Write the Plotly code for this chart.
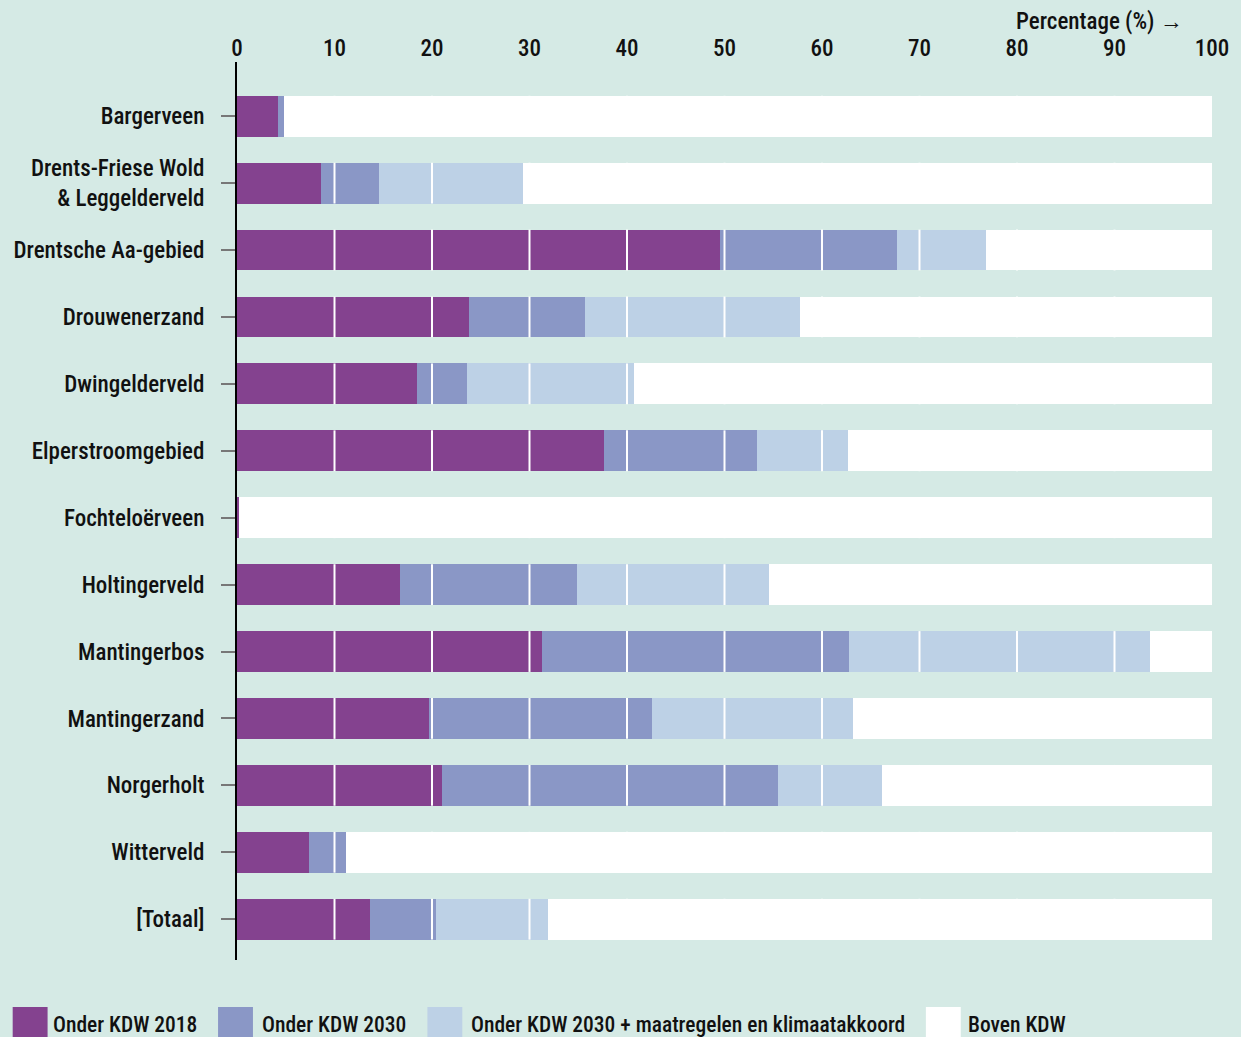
import plotly.graph_objects as go

categories = ["Bargerveen", "Drents-Friese Wold<br>& Leggelderveld", "Drentsche Aa-gebied",
              "Drouwenerzand", "Dwingelderveld", "Elperstroomgebied", "Fochteloërveen",
              "Holtingerveld", "Mantingerbos", "Mantingerzand", "Norgerholt", "Witterveld", "[Totaal]"]
onder_2018 = [4.2, 8.6, 49.5, 23.8, 18.5, 37.6, 0.2, 16.7, 31.3, 19.7, 21.0, 7.4, 13.6]
onder_2030 = [0.6, 6.0, 18.2, 11.9, 5.1, 15.7, 0.0, 18.2, 31.5, 22.9, 34.5, 3.8, 6.8]
onder_2030_maatr = [0.0, 14.7, 9.1, 22.0, 17.1, 9.4, 0.0, 19.7, 30.8, 20.6, 10.7, 0.0, 11.5]
boven = [round(100 - a - b - c, 1) for a, b, c in zip(onder_2018, onder_2030, onder_2030_maatr)]

series_names = ["Onder KDW 2018", "Onder KDW 2030", "Onder KDW 2030 + maatregelen en klimaatakkoord", "Boven KDW"]
series_values = [onder_2018, onder_2030, onder_2030_maatr, boven]
colors = ["#84428f", "#8a97c6", "#bdd1e6", "#ffffff"]
x_ticks = list(range(0, 101, 10))

BG = "#d5eae5"
FONT = "Liberation Sans Narrow, Roboto Condensed, Arial Narrow, sans-serif"
W, H = 1241, 1037
ML, MR, MT, MB = 237, 26, 62, 77

fig = go.Figure()
ypos = list(range(len(categories)))
for name, vals, col in zip(series_names, series_values, colors):
    fig.add_trace(go.Bar(y=ypos, x=vals, name=name, orientation="h",
                         marker=dict(color=col, line=dict(width=0)), width=0.61,
                         showlegend=False))

# white gridlines only inside the bars
shapes = []
for i in ypos:
    for t in x_ticks[1:-1]:
        shapes.append(dict(type="line", xref="x", yref="y", x0=t, x1=t, y0=i - 0.305, y1=i + 0.305,
                           line=dict(color="white", width=2), layer="above"))

# custom legend
def px_x(p):
    return (p - ML) / (W - ML - MR)

def px_y(p):
    return 1 - (p - MT) / (H - MT - MB)

legend_pos = [(12, 50), (218, 260), (428, 470), (928, 968)]
annotations = []
for (sx, tx), name, col in zip(legend_pos, series_names, colors):
    shapes.append(dict(type="rect", xref="paper", yref="paper", x0=px_x(sx), x1=px_x(sx + 35),
                       y0=px_y(1037), y1=px_y(1007), fillcolor=col, line=dict(width=0), layer="above"))
    annotations.append(dict(xref="paper", yref="paper", x=px_x(tx), y=px_y(1024), text=name,
                            showarrow=False, xanchor="left", yanchor="middle",
                            font=dict(size=21.5, color="#111111", family=FONT, weight=500)))

annotations.append(dict(xref="paper", yref="paper", x=px_x(1188), y=px_y(22), text="Percentage (%) →",
                        showarrow=False, xanchor="right", yanchor="middle",
                        font=dict(size=23, color="#111111", family=FONT, weight=500)))

fig.update_layout(
    width=W, height=H, barmode="stack",
    margin=dict(l=ML, r=MR, t=MT, b=MB, pad=0),
    paper_bgcolor=BG, plot_bgcolor=BG,
    font=dict(family=FONT, color="#111111"),
    shapes=shapes, annotations=annotations,
    xaxis=dict(side="top", range=[0, 100], tickvals=x_ticks, ticktext=[str(t) for t in x_ticks],
               showgrid=False, zeroline=False, showline=False, ticks="",
               tickfont=dict(size=23, color="#111111", family=FONT, weight=500), fixedrange=True),
    yaxis=dict(range=[12.61, -0.81], tickvals=ypos, ticktext=categories,
               showgrid=False, zeroline=False, showline=True, linecolor="#000000", linewidth=2,
               ticks="outside", ticklen=14, tickcolor="#777777", tickwidth=2,
               ticklabelstandoff=12,
               tickfont=dict(size=23, color="#111111", family=FONT, weight=500)),
)

fig.write_html("out.html", config={"displayModeBar": False},
               post_script="document.body.style.margin='0';document.body.style.padding='0';")
